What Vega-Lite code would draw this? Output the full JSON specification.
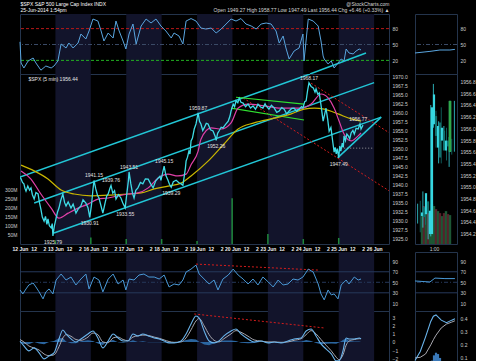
{
"$schema": "https://vega.github.io/schema/vega-lite/v6.json",
"background": "#000000",
"padding": {"left": 3, "top": 0, "right": 0, "bottom": 0},
"datasets": {
"days": [{"d0":1,"d1":2},{"d0":3,"d1":4},{"d0":5,"d1":6},{"d0":7,"d1":8},{"d0":9,"d1":10}],
"price": [{"t":0,"p":1942.0},{"t":0.03,"p":1941.6},{"t":0.07,"p":1940.6},{"t":0.11,"p":1940.2},{"t":0.14,"p":1939.0},{"t":0.17,"p":1938.2},{"t":0.22,"p":1939.6},{"t":0.27,"p":1938.5},{"t":0.31,"p":1939.1},{"t":0.35,"p":1937.2},{"t":0.40,"p":1936.0},{"t":0.45,"p":1937.8},{"t":0.51,"p":1937.4},{"t":0.55,"p":1935.0},{"t":0.59,"p":1933.2},{"t":0.63,"p":1931.0},{"t":0.68,"p":1929.9},{"t":0.72,"p":1931.2},{"t":0.76,"p":1929.0},{"t":0.79,"p":1930.5},{"t":0.83,"p":1928.6},{"t":0.88,"p":1928.0},{"t":0.91,"p":1929.2},{"t":0.93,"p":1925.79},{"t":0.97,"p":1928.5},
{"t":1.02,"p":1930.7},{"t":1.06,"p":1932.4},{"t":1.10,"p":1933.5},{"t":1.15,"p":1935.6},{"t":1.21,"p":1937.4},{"t":1.26,"p":1935.0},{"t":1.30,"p":1934.1},{"t":1.36,"p":1935.2},{"t":1.44,"p":1933.5},{"t":1.50,"p":1934.6},{"t":1.58,"p":1932.1},{"t":1.64,"p":1933.2},{"t":1.72,"p":1934.1},{"t":1.78,"p":1935.8},{"t":1.86,"p":1934.9},{"t":1.92,"p":1933.6},
{"t":1.97,"p":1930.91},{"t":2.02,"p":1934.5},{"t":2.06,"p":1938.6},{"t":2.09,"p":1941.15},{"t":2.14,"p":1938.8},{"t":2.19,"p":1937.0},{"t":2.23,"p":1936.3},{"t":2.29,"p":1934.0},{"t":2.34,"p":1932.1},{"t":2.40,"p":1934.8},{"t":2.45,"p":1936.9},{"t":2.49,"p":1937.4},{"t":2.54,"p":1939.0},{"t":2.57,"p":1939.76},{"t":2.62,"p":1937.6},{"t":2.67,"p":1938.3},{"t":2.71,"p":1936.0},{"t":2.78,"p":1937.2},{"t":2.85,"p":1936.3},{"t":2.90,"p":1935.0},
{"t":2.97,"p":1933.55},{"t":3.02,"p":1937.8},{"t":3.06,"p":1941.0},{"t":3.08,"p":1943.51},{"t":3.13,"p":1940.2},{"t":3.18,"p":1937.5},{"t":3.22,"p":1936.3},{"t":3.27,"p":1938.4},{"t":3.33,"p":1939.1},{"t":3.40,"p":1940.6},{"t":3.47,"p":1940.2},{"t":3.54,"p":1941.6},{"t":3.62,"p":1941.5},{"t":3.69,"p":1940.2},{"t":3.76,"p":1939.1},{"t":3.83,"p":1941.0},{"t":3.90,"p":1941.8},{"t":3.95,"p":1942.3},
{"t":3.98,"p":1941.2},{"t":4.03,"p":1943.4},{"t":4.07,"p":1945.15},{"t":4.12,"p":1942.5},{"t":4.18,"p":1941.2},{"t":4.22,"p":1940.1},{"t":4.27,"p":1939.29},{"t":4.33,"p":1940.8},{"t":4.41,"p":1941.2},{"t":4.48,"p":1940.6},{"t":4.55,"p":1940.2},{"t":4.60,"p":1939.8},{"t":4.63,"p":1941.8},{"t":4.67,"p":1944.5},{"t":4.69,"p":1946.5},{"t":4.73,"p":1947.6},{"t":4.77,"p":1949.3},{"t":4.80,"p":1948.5},{"t":4.83,"p":1952.1},{"t":4.87,"p":1952.9},{"t":4.92,"p":1955.4},{"t":4.97,"p":1956.8},
{"t":5.03,"p":1959.87},{"t":5.07,"p":1957.5},{"t":5.11,"p":1956.8},{"t":5.16,"p":1955.0},{"t":5.20,"p":1955.7},{"t":5.26,"p":1957.0},{"t":5.31,"p":1956.8},{"t":5.38,"p":1955.2},{"t":5.45,"p":1954.85},{"t":5.51,"p":1953.4},{"t":5.54,"p":1952.26},{"t":5.58,"p":1954.2},{"t":5.62,"p":1954.85},{"t":5.68,"p":1955.9},{"t":5.73,"p":1955.7},{"t":5.80,"p":1956.6},{"t":5.88,"p":1957.6},{"t":5.93,"p":1959.0},{"t":5.96,"p":1960.4},
{"t":6.02,"p":1962.3},{"t":6.06,"p":1961.6},{"t":6.10,"p":1963.2},{"t":6.15,"p":1962.7},{"t":6.19,"p":1963.9},{"t":6.24,"p":1962.8},{"t":6.30,"p":1962.6},{"t":6.37,"p":1961.6},{"t":6.44,"p":1962.3},{"t":6.51,"p":1961.2},{"t":6.58,"p":1961.8},{"t":6.65,"p":1960.9},{"t":6.72,"p":1962.3},{"t":6.79,"p":1961.5},{"t":6.86,"p":1961.2},{"t":6.92,"p":1962.4},{"t":6.95,"p":1961.8},
{"t":7.03,"p":1960.9},{"t":7.10,"p":1962.0},{"t":7.18,"p":1961.2},{"t":7.25,"p":1960.0},{"t":7.32,"p":1960.4},{"t":7.39,"p":1961.3},{"t":7.46,"p":1960.9},{"t":7.53,"p":1959.6},{"t":7.60,"p":1960.4},{"t":7.67,"p":1961.1},{"t":7.74,"p":1961.2},{"t":7.81,"p":1960.3},{"t":7.88,"p":1960.9},{"t":7.95,"p":1961.6},{"t":7.99,"p":1961.2},
{"t":8.04,"p":1963.0},{"t":8.08,"p":1963.2},{"t":8.12,"p":1966.0},{"t":8.16,"p":1968.17},{"t":8.22,"p":1967.2},{"t":8.28,"p":1966.8},{"t":8.33,"p":1965.6},{"t":8.36,"p":1966.5},{"t":8.41,"p":1965.0},{"t":8.45,"p":1965.4},{"t":8.50,"p":1962.0},{"t":8.56,"p":1957.6},{"t":8.60,"p":1959.3},{"t":8.64,"p":1961.2},{"t":8.69,"p":1958.0},{"t":8.73,"p":1954.8},{"t":8.78,"p":1955.8},{"t":8.84,"p":1951.25},{"t":8.87,"p":1949.0},{"t":8.90,"p":1950.3},{"t":8.93,"p":1948.5},{"t":8.96,"p":1949.98},
{"t":9.00,"p":1947.49},{"t":9.03,"p":1950.7},{"t":9.06,"p":1949.3},{"t":9.10,"p":1951.5},{"t":9.13,"p":1950.3},{"t":9.15,"p":1953.5},{"t":9.19,"p":1952.2},{"t":9.23,"p":1954.0},{"t":9.27,"p":1953.5},{"t":9.31,"p":1952.7},{"t":9.35,"p":1954.3},{"t":9.40,"p":1955.0},{"t":9.44,"p":1954.0},{"t":9.49,"p":1955.6},{"t":9.55,"p":1955.4},{"t":9.60,"p":1956.8},{"t":9.63,"p":1955.4},{"t":9.67,"p":1956.2},{"t":9.69,"p":1956.44}],
"ma_fast": [{"t":0.03,"p":1943.8},{"t":0.31,"p":1941.55},{"t":0.59,"p":1937.4},{"t":0.88,"p":1933.5},{"t":1.10,"p":1930.7},{"t":1.36,"p":1932.1},{"t":1.64,"p":1933.5},{"t":1.92,"p":1934.6},{"t":2.20,"p":1936.0},{"t":2.49,"p":1936.3},{"t":2.77,"p":1936.9},{"t":3.05,"p":1937.4},{"t":3.33,"p":1937.7},{"t":3.62,"p":1939.1},{"t":3.90,"p":1941.8},{"t":4.18,"p":1942.9},{"t":4.46,"p":1942.4},{"t":4.69,"p":1942.9},{"t":4.83,"p":1945.5},{"t":5.03,"p":1949.3},{"t":5.11,"p":1952.6},{"t":5.40,"p":1955.7},{"t":5.68,"p":1955.4},{"t":5.96,"p":1957.1},{"t":6.16,"p":1961.2},{"t":6.44,"p":1962.3},{"t":6.89,"p":1961.8},{"t":7.37,"p":1961.2},{"t":7.94,"p":1961.2},{"t":8.22,"p":1962.3},{"t":8.50,"p":1965.1},{"t":8.70,"p":1964.0},{"t":8.87,"p":1961.2},{"t":9.01,"p":1957.6},{"t":9.15,"p":1954.0},{"t":9.35,"p":1952.1},{"t":9.55,"p":1953.5},{"t":9.63,"p":1954.3}],
"ma_slow": [{"t":0.03,"p":1945.4},{"t":0.40,"p":1943.8},{"t":0.79,"p":1941.55},{"t":1.16,"p":1938.5},{"t":1.53,"p":1937.4},{"t":2.01,"p":1936.9},{"t":2.57,"p":1937.1},{"t":3.05,"p":1937.4},{"t":3.42,"p":1937.7},{"t":3.79,"p":1938.8},{"t":4.18,"p":1939.6},{"t":4.55,"p":1940.4},{"t":4.83,"p":1942.4},{"t":5.31,"p":1946.5},{"t":5.76,"p":1951.25},{"t":6.16,"p":1955.4},{"t":6.61,"p":1957.1},{"t":7.18,"p":1958.4},{"t":7.66,"p":1959.6},{"t":8.02,"p":1960.9},{"t":8.31,"p":1961.2},{"t":8.59,"p":1960.9},{"t":8.98,"p":1959.6},{"t":9.35,"p":1958.2},{"t":9.63,"p":1957.6}],
"chan": [{"id":"A","t":0,"p":1942.08},{"id":"A","t":8.19,"p":1970.64},{"id":"B","t":0.40,"p":1934.9},{"id":"B","t":10.0,"p":1968.25},{"id":"C","t":0.96,"p":1926.6},{"id":"C","t":10.2,"p":1958.7},{"id":"W","t":8.97,"p":1947.4},{"id":"W","t":10.2,"p":1958.7}],
"red": [{"id":"U","t":8.22,"p":1968.1},{"id":"U","t":10.42,"p":1954.4},{"id":"L","t":6.30,"p":1964.0},{"id":"L","t":10.42,"p":1938.3}],
"green": [{"id":"U","t":6.10,"p":1964.2},{"id":"U","t":8.02,"p":1962.3},{"id":"L","t":5.96,"p":1961.2},{"id":"L","t":8.02,"p":1957.9}],
"flat": [{"t":9.07,"p":1950.1},{"t":9.97,"p":1950.1}],
"highs": [{"t":2.09,"p":1941.15},{"t":2.57,"p":1939.76},{"t":3.08,"p":1943.51},{"t":4.07,"p":1945.15},{"t":5.03,"p":1959.87},{"t":8.16,"p":1968.17},{"t":9.55,"p":1956.77}],
"lows": [{"t":0.93,"p":1925.79},{"t":1.97,"p":1930.91},{"t":2.97,"p":1933.55},{"t":4.27,"p":1939.29},{"t":5.54,"p":1952.26},{"t":9.0,"p":1947.49}],
"vol": [{"t":1.0,"vol":20},{"t":2.0,"vol":35},{"t":3.0,"vol":27},{"t":4.0,"vol":27},{"t":5.0,"vol":16},{"t":5.99,"vol":250},{"t":7.0,"vol":55},{"t":8.0,"vol":27},{"t":9.0,"vol":33}],
"osc": [{"t":0,"v":55},{"t":0.03,"v":15.1},{"t":0.11,"v":5.7},{"t":0.23,"v":18.9},{"t":0.37,"v":24.5},{"t":0.45,"v":15.1},{"t":0.59,"v":1.5},{"t":0.73,"v":9.4},{"t":0.88,"v":5.7},{"t":0.96,"v":9.4},{"t":1.07,"v":18.9},{"t":1.16,"v":51},{"t":1.30,"v":43.4},{"t":1.38,"v":52.8},{"t":1.50,"v":43.4},{"t":1.64,"v":52.8},{"t":1.72,"v":69.8},{"t":1.86,"v":60.4},{"t":1.95,"v":75.5},{"t":2.06,"v":98.1},{"t":2.20,"v":94.3},{"t":2.29,"v":75.5},{"t":2.37,"v":56.6},{"t":2.49,"v":71.7},{"t":2.63,"v":62.3},{"t":2.71,"v":94.3},{"t":2.80,"v":75.5},{"t":2.91,"v":56.6},{"t":2.99,"v":41.5},{"t":3.08,"v":69.8},{"t":3.19,"v":88.7},{"t":3.28,"v":51},{"t":3.42,"v":84.9},{"t":3.56,"v":98.1},{"t":3.70,"v":90.6},{"t":3.84,"v":98.1},{"t":3.98,"v":84.9},{"t":4.12,"v":75.5},{"t":4.27,"v":62.3},{"t":4.35,"v":71.7},{"t":4.49,"v":66},{"t":4.60,"v":51},{"t":4.69,"v":94.3},{"t":4.83,"v":99},{"t":4.97,"v":94.3},{"t":5.11,"v":81.1},{"t":5.25,"v":79.2},{"t":5.40,"v":81.1},{"t":5.54,"v":71.7},{"t":5.68,"v":79.2},{"t":5.82,"v":88.7},{"t":5.96,"v":98.1},{"t":6.10,"v":94.3},{"t":6.24,"v":99},{"t":6.38,"v":88.7},{"t":6.53,"v":84.9},{"t":6.67,"v":79.2},{"t":6.81,"v":88.7},{"t":6.95,"v":90.6},{"t":7.09,"v":88.7},{"t":7.23,"v":75.5},{"t":7.32,"v":52.8},{"t":7.43,"v":66},{"t":7.51,"v":43.4},{"t":7.60,"v":22.6},{"t":7.74,"v":37.7},{"t":7.88,"v":43.4},{"t":7.99,"v":69.8},{"t":8.02,"v":18.9},{"t":8.14,"v":98.1},{"t":8.28,"v":94.3},{"t":8.42,"v":84.9},{"t":8.50,"v":56.6},{"t":8.56,"v":28.3},{"t":8.59,"v":22.6},{"t":8.70,"v":13.2},{"t":8.79,"v":18.9},{"t":8.87,"v":5.7},{"t":8.98,"v":15.1},{"t":9.07,"v":22.6},{"t":9.15,"v":18.9},{"t":9.21,"v":41.5},{"t":9.29,"v":34},{"t":9.41,"v":32.1},{"t":9.49,"v":37.7},{"t":9.58,"v":41.5},{"t":9.63,"v":39.6}],
"osc_tl": [{"t":8.19,"v":-5.7},{"t":9.77,"v":34}],
"rsi": [{"t":0,"v":35.4},{"t":0.08,"v":27.9},{"t":0.17,"v":37.3},{"t":0.25,"v":44.9},{"t":0.37,"v":48.7},{"t":0.45,"v":41.1},{"t":0.54,"v":31.7},{"t":0.65,"v":18.4},{"t":0.73,"v":31.7},{"t":0.82,"v":37.3},{"t":0.93,"v":27.9},{"t":1.02,"v":54.3},{"t":1.16,"v":65.7},{"t":1.30,"v":54.3},{"t":1.44,"v":60},{"t":1.58,"v":44.9},{"t":1.72,"v":56.2},{"t":1.86,"v":65.7},{"t":1.95,"v":37.3},{"t":2.09,"v":60},{"t":2.23,"v":54.3},{"t":2.34,"v":31.7},{"t":2.49,"v":56.2},{"t":2.63,"v":65.7},{"t":2.77,"v":46.8},{"t":2.91,"v":54.3},{"t":2.99,"v":35.4},{"t":3.08,"v":56.2},{"t":3.22,"v":54.3},{"t":3.36,"v":63.8},{"t":3.50,"v":65.7},{"t":3.64,"v":60},{"t":3.79,"v":60},{"t":3.93,"v":56.2},{"t":4.07,"v":63.8},{"t":4.21,"v":41.1},{"t":4.35,"v":46.8},{"t":4.49,"v":44.9},{"t":4.60,"v":54.3},{"t":4.69,"v":69.5},{"t":4.83,"v":75.1},{"t":4.97,"v":82.7},{"t":5.06,"v":65.7},{"t":5.20,"v":56.2},{"t":5.34,"v":46.8},{"t":5.48,"v":54.3},{"t":5.59,"v":35.4},{"t":5.73,"v":56.2},{"t":5.88,"v":63.8},{"t":6.02,"v":75.1},{"t":6.16,"v":63.8},{"t":6.30,"v":56.2},{"t":6.44,"v":46.8},{"t":6.58,"v":56.2},{"t":6.72,"v":44.9},{"t":6.86,"v":60},{"t":7.01,"v":50.6},{"t":7.15,"v":41.1},{"t":7.29,"v":54.3},{"t":7.43,"v":44.9},{"t":7.57,"v":46.8},{"t":7.71,"v":56.2},{"t":7.85,"v":54.3},{"t":7.99,"v":60},{"t":8.14,"v":75.1},{"t":8.28,"v":69.5},{"t":8.42,"v":46.8},{"t":8.50,"v":27.9},{"t":8.59,"v":16.5},{"t":8.70,"v":35.4},{"t":8.79,"v":26},{"t":8.87,"v":27.9},{"t":8.98,"v":18.4},{"t":9.07,"v":44.9},{"t":9.21,"v":54.3},{"t":9.29,"v":46.8},{"t":9.44,"v":60},{"t":9.55,"v":54.3},{"t":9.63,"v":56.2}],
"rsi_tl": [{"t":4.97,"v":84.6},{"t":8.42,"v":73.2}],
"macd": [{"t":0,"m":0.12,"s":0.3,"h":-0.1},{"t":0.11,"m":-0.49,"s":0.0,"h":-0.25},{"t":0.25,"m":-1.11,"s":-0.5,"h":-0.3},{"t":0.40,"m":-0.74,"s":-0.75,"h":0.0},{"t":0.54,"m":-1.36,"s":-1.0,"h":-0.2},{"t":0.68,"m":-2.1,"s":-1.5,"h":-0.3},{"t":0.82,"m":-1.73,"s":-1.7,"h":0.0},{"t":0.96,"m":-1.36,"s":-1.6,"h":0.12},{"t":1.10,"m":0.37,"s":-0.6,"h":0.45},{"t":1.21,"m":1.48,"s":0.5,"h":0.5},{"t":1.30,"m":0.99,"s":0.9,"h":0.05},{"t":1.44,"m":0.37,"s":0.7,"h":-0.15},{"t":1.58,"m":0,"s":0.3,"h":-0.15},{"t":1.72,"m":0.37,"s":0.2,"h":0.08},{"t":1.92,"m":0.99,"s":0.6,"h":0.2},{"t":2.06,"m":1.36,"s":1.1,"h":0.13},{"t":2.20,"m":0.49,"s":0.9,"h":-0.2},{"t":2.34,"m":-0.74,"s":0.0,"h":-0.37},{"t":2.49,"m":0.12,"s":-0.1,"h":0.1},{"t":2.63,"m":0.99,"s":0.5,"h":0.25},{"t":2.77,"m":0.49,"s":0.6,"h":-0.05},{"t":2.91,"m":0.12,"s":0.3,"h":-0.1},{"t":3.05,"m":0.12,"s":0.15,"h":-0.02},{"t":3.19,"m":0.99,"s":0.6,"h":0.2},{"t":3.33,"m":0.74,"s":0.75,"h":0.0},{"t":3.47,"m":0.99,"s":0.85,"h":0.07},{"t":3.62,"m":0.74,"s":0.8,"h":-0.03},{"t":3.79,"m":0.49,"s":0.6,"h":-0.05},{"t":3.93,"m":0.37,"s":0.45,"h":-0.04},{"t":4.07,"m":0.12,"s":0.25,"h":-0.07},{"t":4.21,"m":-0.12,"s":0.05,"h":-0.08},{"t":4.35,"m":-0.12,"s":-0.05,"h":-0.04},{"t":4.55,"m":0.12,"s":0.0,"h":0.06},{"t":4.69,"m":0.99,"s":0.5,"h":0.25},{"t":4.83,"m":2.22,"s":1.5,"h":0.36},{"t":4.97,"m":3.21,"s":2.6,"h":0.3},{"t":5.06,"m":2.96,"s":2.9,"h":0.03},{"t":5.20,"m":1.36,"s":2.0,"h":-0.32},{"t":5.34,"m":0.12,"s":0.9,"h":-0.4},{"t":5.48,"m":-0.12,"s":0.2,"h":-0.16},{"t":5.62,"m":0.12,"s":0.0,"h":0.06},{"t":5.76,"m":0.74,"s":0.4,"h":0.17},{"t":5.96,"m":1.36,"s":1.0,"h":0.18},{"t":6.10,"m":1.6,"s":1.4,"h":0.1},{"t":6.24,"m":0.99,"s":1.2,"h":-0.1},{"t":6.44,"m":0.37,"s":0.7,"h":-0.17},{"t":6.61,"m":0,"s":0.25,"h":-0.12},{"t":6.81,"m":0.12,"s":0.1,"h":0.01},{"t":7.01,"m":-0.12,"s":0.0,"h":-0.06},{"t":7.18,"m":0,"s":0.0,"h":0.0},{"t":7.37,"m":-0.12,"s":-0.05,"h":-0.03},{"t":7.57,"m":0.12,"s":0.0,"h":0.06},{"t":7.74,"m":0.37,"s":0.2,"h":0.08},{"t":7.94,"m":0.49,"s":0.4,"h":0.05},{"t":8.08,"m":1.36,"s":0.9,"h":0.23},{"t":8.22,"m":1.6,"s":1.4,"h":0.1},{"t":8.36,"m":0.74,"s":1.0,"h":-0.13},{"t":8.50,"m":-0.25,"s":0.3,"h":-0.28},{"t":8.64,"m":-0.86,"s":-0.4,"h":-0.23},{"t":8.79,"m":-1.48,"s":-1.1,"h":-0.19},{"t":8.93,"m":-2.35,"s":-1.9,"h":-0.22},{"t":9.01,"m":-2.35,"s":-2.2,"h":-0.07},{"t":9.12,"m":-1.11,"s":-1.6,"h":0.25},{"t":9.21,"m":0.49,"s":-0.4,"h":0.45},{"t":9.29,"m":0.37,"s":0.1,"h":0.13},{"t":9.44,"m":0.37,"s":0.3,"h":0.04},{"t":9.58,"m":0.49,"s":0.4,"h":0.05},{"t":9.63,"m":0.37,"s":0.4,"h":0.0}],
"macd_tl": [{"t":4.92,"v":3.46},{"t":8.59,"v":1.73}],
"r_osc": [{"m":0,"v":34},{"m":3.8,"v":36},{"m":5.7,"v":37},{"m":9.5,"v":39.6},{"m":13.3,"v":39.6},{"m":15.2,"v":40.8}],
"r_candles": [{"m":1,"o":1954.50,"h":1954.71,"l":1954.37,"c":1954.56,"vol":2.11},{"m":2,"o":1954.65,"h":1954.76,"l":1954.22,"c":1954.48,"vol":2.68},{"m":3,"o":1954.53,"h":1954.92,"l":1954.30,"c":1954.89,"vol":2.32},{"m":4,"o":1954.75,"h":1954.85,"l":1954.35,"c":1954.55,"vol":2.18},{"m":5,"o":1954.19,"h":1954.62,"l":1954.10,"c":1954.59,"vol":1.97},{"m":6,"o":1954.19,"h":1956.40,"l":1954.15,"c":1956.36,"vol":2.82},{"m":7,"o":1956.07,"h":1956.76,"l":1956.01,"c":1956.58,"vol":2.68},{"m":8,"o":1956.21,"h":1956.30,"l":1955.67,"c":1955.87,"vol":2.46},{"m":9,"o":1955.67,"h":1956.12,"l":1955.40,"c":1956.04,"vol":2.32},{"m":10,"o":1956.10,"h":1956.36,"l":1955.40,"c":1955.50,"vol":2.18},{"m":11,"o":1955.79,"h":1956.04,"l":1955.67,"c":1956.01,"vol":1.97},{"m":12,"o":1955.96,"h":1956.01,"l":1955.45,"c":1955.62,"vol":2.18},{"m":13,"o":1955.62,"h":1955.85,"l":1955.34,"c":1955.79,"vol":2.32},{"m":14,"o":1955.79,"h":1955.82,"l":1955.55,"c":1955.69,"vol":2.11},{"m":15,"o":1955.60,"h":1956.47,"l":1955.60,"c":1956.47,"vol":2.04}],
"r_rsi": [{"m":0,"v":52.5},{"m":5.7,"v":50.6},{"m":7.6,"v":58},{"m":11.4,"v":57},{"m":15.2,"v":57}],
"r_macd": [{"m":0,"a":0.08,"s":0.10},{"m":2,"a":0.15,"s":0.105},{"m":4,"a":0.26,"s":0.13},{"m":6,"a":0.38,"s":0.20},{"m":7,"a":0.42,"s":0.24},{"m":8,"a":0.43,"s":0.275},{"m":10,"a":0.39,"s":0.33},{"m":12,"a":0.37,"s":0.36},{"m":14,"a":0.39,"s":0.375},{"m":15.2,"a":0.40,"s":0.385}],
"r_hist": [{"m":6,"h":0.08},{"m":7,"h":0.12},{"m":8,"h":0.14},{"m":9,"h":0.13},{"m":10,"h":0.10},{"m":11,"h":0.07},{"m":12,"h":0.05},{"m":13,"h":0.04},{"m":14,"h":0.04},{"m":15,"h":0.03}]
},
"spacing": 4,
"hconcat": [
{"spacing": 0, "bounds": "flush", "vconcat": [
 {"width": 369, "height": 60,
  "resolve": {"scale": {"x": "independent", "y": "independent"}},
  "layer": [
   {"data": {"name": "days"}, "mark": {"type": "rect", "color": "#12142b"},
    "encoding": {"x": {"field": "d0", "type": "quantitative", "scale": {"domain": [0, 10.42], "nice": false, "zero": false}, "axis": {"orient": "top", "labels": false, "title": ["@StockCharts.com", "Open 1949.27  High 1958.77  Low 1947.49  Last 1956.44  Chg +6.46 (+0.33%) ▲"], "titleX": 369, "titleY": -13, "titleAlign": "right", "titleBaseline": "top", "titleAngle": 0, "titleLineHeight": 6, "titleColor": "#d6d6d6", "zindex": 1}}, "x2": {"field": "d1"}}},
   {"data": {"values": [{"lv": 80}]}, "mark": {"type": "rule", "color": "#b81818", "strokeDash": [3, 2]}, "encoding": {"y": {"field": "lv", "type": "quantitative", "scale": {"domain": [-5.7, 107.6], "nice": false, "zero": false}, "axis": null}}},
   {"data": {"values": [{"lv": 50}]}, "mark": {"type": "rule", "color": "#3a4a66", "strokeDash": [4, 2, 1, 2]}, "encoding": {"y": {"field": "lv", "type": "quantitative", "scale": {"domain": [-5.7, 107.6], "nice": false, "zero": false}, "axis": null}}},
   {"data": {"values": [{"lv": 20}]}, "mark": {"type": "rule", "color": "#22b022", "strokeDash": [3, 2]}, "encoding": {"y": {"field": "lv", "type": "quantitative", "scale": {"domain": [-5.7, 107.6], "nice": false, "zero": false}, "axis": null}}},
   {"data": {"name": "osc_tl"}, "mark": {"type": "line", "color": "#1ec8d2", "strokeWidth": 1.5, "clip": true},
    "encoding": {"x": {"field": "t", "type": "quantitative", "scale": {"domain": [0, 10.42], "nice": false, "zero": false}, "axis": null}, "y": {"field": "v", "type": "quantitative", "scale": {"domain": [-5.7, 107.6], "nice": false, "zero": false}, "axis": null}}},
   {"data": {"name": "osc"}, "mark": {"type": "line", "color": "#5aa6e0", "strokeWidth": 1},
    "encoding": {"x": {"field": "t", "type": "quantitative", "scale": {"domain": [0, 10.42], "nice": false, "zero": false}, "axis": null},
                 "y": {"field": "v", "type": "quantitative", "scale": {"domain": [-5.7, 107.6], "nice": false, "zero": false}, "axis": {"orient": "right", "values": [20, 50, 80], "title": ["$SPX  S&P 500 Large Cap Index  INDX", "25-Jun-2014 1:54pm"], "titleX": -369, "titleY": -13, "titleAlign": "left", "titleBaseline": "top", "titleAngle": 0, "titleLineHeight": 6, "titleColor": "#ffffff", "zindex": 1}}}}
  ]
 },
 {"width": 369, "height": 170,
  "resolve": {"scale": {"x": "independent", "y": "independent"}},
  "layer": [
   {"data": {"name": "days"}, "mark": {"type": "rect", "color": "#12142b"},
    "encoding": {"x": {"field": "d0", "type": "quantitative", "scale": {"domain": [0, 10.42], "nice": false, "zero": false}, "axis": {"orient": "bottom", "title": null, "values": [0,0.385,0.692,1,1.385,1.692,2,2.385,2.692,3,3.385,3.692,4,4.385,4.692,5,5.385,5.692,6,6.385,6.692,7,7.385,7.692,8,8.385,8.692,9,9.385,9.692,10], "labelExpr": "datum.value - floor(datum.value) < 0.01 ? ['12 Jun','13 Jun','16 Jun','17 Jun','18 Jun','19 Jun','20 Jun','23 Jun','24 Jun','25 Jun','26 Jun'][round(datum.value)] : (datum.value - floor(datum.value) < 0.5 ? '12' : '2')", "labelFlush": false, "labelOverlap": false, "labelFontWeight": "bold", "labelColor": "#eeeeee", "labelPadding": 2}}, "x2": {"field": "d1"}}},
   {"data": {"name": "vol"}, "mark": {"type": "rule", "color": "#1f8a3c", "strokeWidth": 1.5},
    "encoding": {"x": {"field": "t", "type": "quantitative", "scale": {"domain": [0, 10.42], "nice": false, "zero": false}, "axis": null},
                 "y": {"field": "vol", "type": "quantitative", "scale": {"domain": [0, 929], "nice": false, "zero": false}, "axis": {"orient": "left", "values": [50, 100, 150, 200, 250, 300], "labelExpr": "datum.value + 'M'", "title": "$SPX (5 min) 1956.44", "titleX": 8, "titleY": 2, "titleAngle": 0, "titleAlign": "left", "titleBaseline": "top", "titleColor": "#e6e6e6", "zindex": 1}},
                 "y2": {"datum": 0}}},
   {"data": {"name": "chan"}, "mark": {"type": "line", "color": "#22c6d6", "strokeWidth": 1.5, "clip": true},
    "encoding": {"x": {"field": "t", "type": "quantitative", "scale": {"domain": [0, 10.42], "nice": false, "zero": false}, "axis": null}, "y": {"field": "p", "type": "quantitative", "scale": {"domain": [1923.55, 1970.64], "nice": false, "zero": false}, "axis": null}, "detail": {"field": "id"}}},
   {"data": {"name": "red"}, "mark": {"type": "line", "color": "#d41c1c", "strokeWidth": 1, "strokeDash": [2, 2], "clip": true},
    "encoding": {"x": {"field": "t", "type": "quantitative", "scale": {"domain": [0, 10.42], "nice": false, "zero": false}, "axis": null}, "y": {"field": "p", "type": "quantitative", "scale": {"domain": [1923.55, 1970.64], "nice": false, "zero": false}, "axis": null}, "detail": {"field": "id"}}},
   {"data": {"name": "green"}, "mark": {"type": "line", "color": "#30e030", "strokeWidth": 1.2, "clip": true},
    "encoding": {"x": {"field": "t", "type": "quantitative", "scale": {"domain": [0, 10.42], "nice": false, "zero": false}, "axis": null}, "y": {"field": "p", "type": "quantitative", "scale": {"domain": [1923.55, 1970.64], "nice": false, "zero": false}, "axis": null}, "detail": {"field": "id"}}},
   {"data": {"name": "flat"}, "mark": {"type": "line", "color": "#bbbbbb", "strokeWidth": 0.8, "strokeDash": [1, 2], "clip": true},
    "encoding": {"x": {"field": "t", "type": "quantitative", "scale": {"domain": [0, 10.42], "nice": false, "zero": false}, "axis": null}, "y": {"field": "p", "type": "quantitative", "scale": {"domain": [1923.55, 1970.64], "nice": false, "zero": false}, "axis": null}}},
   {"data": {"name": "ma_slow"}, "mark": {"type": "line", "color": "#c9b600", "strokeWidth": 1.2, "clip": true, "interpolate": "monotone"},
    "encoding": {"x": {"field": "t", "type": "quantitative", "scale": {"domain": [0, 10.42], "nice": false, "zero": false}, "axis": null}, "y": {"field": "p", "type": "quantitative", "scale": {"domain": [1923.55, 1970.64], "nice": false, "zero": false}, "axis": null}}},
   {"data": {"name": "ma_fast"}, "mark": {"type": "line", "color": "#e040a8", "strokeWidth": 1.2, "clip": true, "interpolate": "monotone"},
    "encoding": {"x": {"field": "t", "type": "quantitative", "scale": {"domain": [0, 10.42], "nice": false, "zero": false}, "axis": null}, "y": {"field": "p", "type": "quantitative", "scale": {"domain": [1923.55, 1970.64], "nice": false, "zero": false}, "axis": null}}},
   {"data": {"name": "price"}, "mark": {"type": "line", "color": "#3fdbe6", "strokeWidth": 1.3, "clip": true},
    "encoding": {"x": {"field": "t", "type": "quantitative", "scale": {"domain": [0, 10.42], "nice": false, "zero": false}, "axis": null}, "y": {"field": "p", "type": "quantitative", "scale": {"domain": [1923.55, 1970.64], "nice": false, "zero": false}, "axis": {"orient": "right", "values": [1925,1927.5,1930,1932.5,1935,1937.5,1940,1942.5,1945,1947.5,1950,1952.5,1955,1957.5,1960,1962.5,1965,1967.5,1970], "format": ".1f", "title": null}}}},
   {"data": {"name": "highs"}, "mark": {"type": "text", "dy": -5, "fontSize": 5, "color": "#e0e0e0", "font": "Liberation Sans"},
    "encoding": {"x": {"field": "t", "type": "quantitative", "scale": {"domain": [0, 10.42], "nice": false, "zero": false}, "axis": null}, "y": {"field": "p", "type": "quantitative", "scale": {"domain": [1923.55, 1970.64], "nice": false, "zero": false}, "axis": null}, "text": {"field": "p", "type": "quantitative", "format": ".2f"}}},
   {"data": {"name": "lows"}, "mark": {"type": "text", "dy": 6, "fontSize": 5, "color": "#e0e0e0", "font": "Liberation Sans"},
    "encoding": {"x": {"field": "t", "type": "quantitative", "scale": {"domain": [0, 10.42], "nice": false, "zero": false}, "axis": null}, "y": {"field": "p", "type": "quantitative", "scale": {"domain": [1923.55, 1970.64], "nice": false, "zero": false}, "axis": null}, "text": {"field": "p", "type": "quantitative", "format": ".2f"}}}
  ]
 },
 {"width": 369, "height": 8, "view": {"stroke": null}, "data": {"values": [{}]}, "mark": {"type": "rule", "opacity": 0}, "encoding": {}},
 {"width": 369, "height": 59,
  "resolve": {"scale": {"x": "independent", "y": "independent"}},
  "layer": [
   {"data": {"name": "days"}, "mark": {"type": "rect", "color": "#12142b"},
    "encoding": {"x": {"field": "d0", "type": "quantitative", "scale": {"domain": [0, 10.42], "nice": false, "zero": false}, "axis": null}, "x2": {"field": "d1"}}},
   {"data": {"values": [{"lv": 70}, {"lv": 30}]}, "mark": {"type": "rule", "color": "#26385a"}, "encoding": {"y": {"field": "lv", "type": "quantitative", "scale": {"domain": [-4.6, 107.6], "nice": false, "zero": false}, "axis": null}}},
   {"data": {"values": [{"lv": 50}]}, "mark": {"type": "rule", "color": "#26385a", "strokeDash": [4, 2, 1, 2]}, "encoding": {"y": {"field": "lv", "type": "quantitative", "scale": {"domain": [-4.6, 107.6], "nice": false, "zero": false}, "axis": null}}},
   {"data": {"name": "rsi_tl"}, "mark": {"type": "line", "color": "#d41c1c", "strokeWidth": 1, "strokeDash": [2, 2]},
    "encoding": {"x": {"field": "t", "type": "quantitative", "scale": {"domain": [0, 10.42], "nice": false, "zero": false}, "axis": null}, "y": {"field": "v", "type": "quantitative", "scale": {"domain": [-4.6, 107.6], "nice": false, "zero": false}, "axis": null}}},
   {"data": {"name": "rsi"}, "mark": {"type": "line", "color": "#4a9ad8", "strokeWidth": 1},
    "encoding": {"x": {"field": "t", "type": "quantitative", "scale": {"domain": [0, 10.42], "nice": false, "zero": false}, "axis": null}, "y": {"field": "v", "type": "quantitative", "scale": {"domain": [-4.6, 107.6], "nice": false, "zero": false}, "axis": {"orient": "right", "values": [10, 30, 50, 70, 90], "title": null}}}}
  ]
 },
 {"width": 369, "height": 60,
  "resolve": {"scale": {"x": "independent", "y": "independent"}},
  "layer": [
   {"data": {"name": "days"}, "mark": {"type": "rect", "color": "#12142b"},
    "encoding": {"x": {"field": "d0", "type": "quantitative", "scale": {"domain": [0, 10.42], "nice": false, "zero": false}, "axis": null}, "x2": {"field": "d1"}}},
   {"data": {"name": "macd"}, "mark": {"type": "area", "color": "#2f6fae", "opacity": 0.9},
    "encoding": {"x": {"field": "t", "type": "quantitative", "scale": {"domain": [0, 10.42], "nice": false, "zero": false}, "axis": null}, "y": {"field": "h", "type": "quantitative", "scale": {"domain": [-3.6, 3.83], "nice": false, "zero": false}, "axis": null}, "y2": {"datum": 0}}},
   {"data": {"name": "macd"}, "mark": {"type": "line", "color": "#a8a8b0", "strokeWidth": 1, "interpolate": "monotone"},
    "encoding": {"x": {"field": "t", "type": "quantitative", "scale": {"domain": [0, 10.42], "nice": false, "zero": false}, "axis": null}, "y": {"field": "s", "type": "quantitative", "scale": {"domain": [-3.6, 3.83], "nice": false, "zero": false}, "axis": null}}},
   {"data": {"name": "macd"}, "mark": {"type": "line", "color": "#6ab4ec", "strokeWidth": 1.1, "interpolate": "monotone"},
    "encoding": {"x": {"field": "t", "type": "quantitative", "scale": {"domain": [0, 10.42], "nice": false, "zero": false}, "axis": null}, "y": {"field": "m", "type": "quantitative", "scale": {"domain": [-3.6, 3.83], "nice": false, "zero": false}, "axis": null}}},
   {"data": {"name": "macd_tl"}, "mark": {"type": "line", "color": "#d41c1c", "strokeWidth": 1, "strokeDash": [2, 2]},
    "encoding": {"x": {"field": "t", "type": "quantitative", "scale": {"domain": [0, 10.42], "nice": false, "zero": false}, "axis": null}, "y": {"field": "v", "type": "quantitative", "scale": {"domain": [-3.6, 3.83], "nice": false, "zero": false}, "axis": {"orient": "right", "values": [-2, -1, 0, 1, 2, 3], "title": null}}}}
  ]
 }
]},
{"spacing": 0, "bounds": "flush", "vconcat": [
 {"width": 42, "height": 60,
  "resolve": {"scale": {"x": "independent", "y": "independent"}},
  "layer": [
   {"data": {"values": [{"lv": 50}]}, "mark": {"type": "rule", "color": "#3a4a66", "strokeDash": [4, 2, 1, 2]}, "encoding": {"y": {"field": "lv", "type": "quantitative", "scale": {"domain": [-5.7, 107.6], "nice": false, "zero": false}, "axis": null}}},
   {"data": {"name": "r_osc"}, "mark": {"type": "line", "color": "#5aa6e0", "strokeWidth": 1},
    "encoding": {"x": {"field": "m", "type": "quantitative", "scale": {"domain": [0, 16], "nice": false, "zero": false}, "axis": {"orient": "top", "labels": false, "title": [" ", " "], "titleX": 0, "titleY": -13, "titleAlign": "left", "titleBaseline": "top", "titleAngle": 0, "titleLineHeight": 6}},
                 "y": {"field": "v", "type": "quantitative", "scale": {"domain": [-5.7, 107.6], "nice": false, "zero": false}, "axis": {"orient": "right", "values": [20, 50, 80], "title": null}}}}
  ]
 },
 {"width": 42, "height": 170,
  "resolve": {"scale": {"x": "independent", "y": "independent"}},
  "layer": [
   {"data": {"name": "r_candles"}, "mark": {"type": "bar", "size": 2.4},
    "encoding": {"x": {"field": "m", "type": "quantitative", "scale": {"domain": [0, 16], "nice": false, "zero": false}, "axis": {"orient": "bottom", "values": [7], "labelExpr": "'1:00'", "labelFlush": false, "labelPadding": 2, "title": null}},
                 "y": {"field": "vol", "type": "quantitative", "scale": {"domain": [0, 12], "nice": false, "zero": false}, "axis": null}, "y2": {"datum": 0},
                 "color": {"condition": {"test": "datum.c >= datum.o", "value": "#1c5634"}, "value": "#58202a"}}},
   {"data": {"name": "r_candles"}, "mark": {"type": "rule", "strokeWidth": 0.8},
    "encoding": {"x": {"field": "m", "type": "quantitative", "scale": {"domain": [0, 16], "nice": false, "zero": false}, "axis": null},
                 "y": {"field": "l", "type": "quantitative", "scale": {"domain": [1954.02, 1956.93], "nice": false, "zero": false}, "axis": null}, "y2": {"field": "h"},
                 "color": {"condition": {"test": "datum.c >= datum.o", "value": "#36d6e0"}, "value": "#12706e"}}},
   {"data": {"name": "r_candles"}, "mark": {"type": "bar", "size": 2.2},
    "encoding": {"x": {"field": "m", "type": "quantitative", "scale": {"domain": [0, 16], "nice": false, "zero": false}, "axis": null},
                 "y": {"field": "o", "type": "quantitative", "scale": {"domain": [1954.02, 1956.93], "nice": false, "zero": false}, "axis": {"orient": "right", "values": [1954.2,1954.4,1954.6,1954.8,1955,1955.2,1955.4,1955.6,1955.8,1956,1956.2,1956.4,1956.6,1956.8], "format": ".1f", "title": null}}, "y2": {"field": "c"},
                 "color": {"condition": {"test": "datum.c >= datum.o", "value": "#36d6e0"}, "value": "#12706e"}}},
   {"data": {"name": "r_candles"}, "transform": [{"filter": "datum.m == 15"}], "mark": {"type": "bar", "size": 2.6, "color": "#2fa84a"},
    "encoding": {"x": {"field": "m", "type": "quantitative", "scale": {"domain": [0, 16], "nice": false, "zero": false}, "axis": null},
                 "y": {"field": "o", "type": "quantitative", "scale": {"domain": [1954.02, 1956.93], "nice": false, "zero": false}, "axis": null}, "y2": {"field": "c"}}}
  ]
 },
 {"width": 42, "height": 8, "view": {"stroke": null}, "data": {"values": [{}]}, "mark": {"type": "rule", "opacity": 0}, "encoding": {}},
 {"width": 42, "height": 59,
  "resolve": {"scale": {"x": "independent", "y": "independent"}},
  "layer": [
   {"data": {"values": [{"lv": 70}, {"lv": 30}]}, "mark": {"type": "rule", "color": "#26385a"}, "encoding": {"y": {"field": "lv", "type": "quantitative", "scale": {"domain": [-4.6, 107.6], "nice": false, "zero": false}, "axis": null}}},
   {"data": {"values": [{"lv": 50}]}, "mark": {"type": "rule", "color": "#26385a", "strokeDash": [4, 2, 1, 2]}, "encoding": {"y": {"field": "lv", "type": "quantitative", "scale": {"domain": [-4.6, 107.6], "nice": false, "zero": false}, "axis": null}}},
   {"data": {"name": "r_rsi"}, "mark": {"type": "line", "color": "#4a9ad8", "strokeWidth": 1},
    "encoding": {"x": {"field": "m", "type": "quantitative", "scale": {"domain": [0, 16], "nice": false, "zero": false}, "axis": null}, "y": {"field": "v", "type": "quantitative", "scale": {"domain": [-4.6, 107.6], "nice": false, "zero": false}, "axis": {"orient": "right", "values": [10, 30, 50, 70, 90], "title": null}}}}
  ]
 },
 {"width": 42, "height": 60,
  "resolve": {"scale": {"x": "independent", "y": "independent"}},
  "layer": [
   {"data": {"name": "r_hist"}, "mark": {"type": "bar", "size": 2.2, "color": "#3a78b8"},
    "encoding": {"x": {"field": "m", "type": "quantitative", "scale": {"domain": [0, 16], "nice": false, "zero": false}, "axis": null}, "y": {"field": "h", "type": "quantitative", "scale": {"domain": [0, 0.46], "nice": false, "zero": false}, "axis": null}, "y2": {"datum": 0}}},
   {"data": {"name": "r_macd"}, "mark": {"type": "line", "color": "#a8a8b0", "strokeWidth": 1},
    "encoding": {"x": {"field": "m", "type": "quantitative", "scale": {"domain": [0, 16], "nice": false, "zero": false}, "axis": null}, "y": {"field": "s", "type": "quantitative", "scale": {"domain": [0, 0.46], "nice": false, "zero": false}, "axis": null}}},
   {"data": {"name": "r_macd"}, "mark": {"type": "line", "color": "#6ab4ec", "strokeWidth": 1.1},
    "encoding": {"x": {"field": "m", "type": "quantitative", "scale": {"domain": [0, 16], "nice": false, "zero": false}, "axis": null}, "y": {"field": "a", "type": "quantitative", "scale": {"domain": [0, 0.46], "nice": false, "zero": false}, "axis": {"orient": "right", "values": [0.1, 0.2, 0.3, 0.4], "format": ".1f", "title": null}}}}
  ]
 }
]}
],
"config": {
 "view": {"stroke": "#24344c", "strokeWidth": 1},
 "axis": {"labelColor": "#cccccc", "labelFont": "Liberation Sans", "labelFontSize": 5, "titleFont": "Liberation Sans", "titleFontSize": 5, "titleFontWeight": "normal", "titleColor": "#dddddd", "grid": false, "ticks": false, "domain": false, "labelPadding": 3, "minExtent": 0, "labelOverlap": false},
 "text": {"font": "Liberation Sans"}
}
}
